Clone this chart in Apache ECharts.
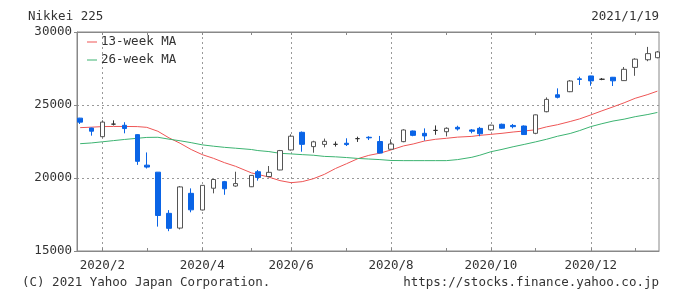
<!DOCTYPE html>
<html><head><meta charset="utf-8">
<script src="https://cdn.jsdelivr.net/npm/echarts@6/dist/echarts.min.js"></script>
<style>html,body{margin:0;padding:0;background:#fff}#c{width:689px;height:295px}</style>
</head><body><div id="c"></div>
<script>
// First trading day of each weekly candle
const weekDates = ['2020-01-20','2020-01-27','2020-02-03','2020-02-10','2020-02-17','2020-02-25','2020-03-02','2020-03-09','2020-03-16','2020-03-23','2020-03-30','2020-04-06','2020-04-13','2020-04-20','2020-04-27','2020-05-07','2020-05-11','2020-05-18','2020-05-25','2020-06-01','2020-06-08','2020-06-15','2020-06-22','2020-06-29','2020-07-06','2020-07-13','2020-07-20','2020-07-27','2020-08-03','2020-08-11','2020-08-17','2020-08-24','2020-08-31','2020-09-07','2020-09-14','2020-09-23','2020-09-28','2020-10-05','2020-10-12','2020-10-19','2020-10-26','2020-11-02','2020-11-09','2020-11-16','2020-11-24','2020-11-30','2020-12-07','2020-12-14','2020-12-21','2020-12-28','2021-01-04','2021-01-12','2021-01-18'];
const openVals  = [24100,23420,22830,23690,23610,22970,20880,20400,17580,16570,18950,17810,19300,19750,19450,19400,20430,20100,20550,21920,23130,22150,22300,22306,22380,22696,22790,22500,21970,22490,23220,23060,23260,23170,23470,23290,23400,23300,23680,23600,23560,23060,24540,25700,25910,26790,26990,26763,26900,26670,27575,28100,28240];
const closeVals = [23827,23205,23830,23690,23386,21142,20749,17431,16552,19389,17820,19498,19897,19262,19619,20179,20037,20388,21877,22863,22305,22478,22512,22306,22290,22696,22751,21710,22329,23289,22920,22882,23260,23406,23360,23204,23029,23619,23410,23516,22977,24325,25385,25527,26644,26751,26652,26763,26656,27444,28139,28519,28633];
const lowVals   = [23700,22900,22780,23600,23060,20900,20650,16670,16358,16480,17650,17780,18950,18850,19400,19380,19820,20050,20530,21880,21800,21730,22100,22150,22190,22470,22600,21690,21950,22450,22860,22560,22960,22850,23250,23060,22860,23250,23380,23400,22950,23000,24500,25450,25880,26370,26320,26700,26300,26650,27000,28000,28200];
const highVals  = [24120,23450,23950,23950,23820,23000,21750,20400,17800,19450,19290,19520,19920,19800,20430,20200,20550,20820,21920,22990,23185,22550,22700,22500,22720,22830,22860,22880,22650,23340,23250,23400,23600,23470,23580,23350,23500,23650,23725,23700,23600,24350,25520,26140,26710,26940,27000,26850,26920,27600,28200,28979,28700];
const ma13 = [23450,23480,23520,23530,23530,23520,23470,23200,22750,22380,21950,21600,21350,21050,20800,20350,20250,20060,19820,19680,19750,19950,20250,20650,20980,21320,21550,21700,21920,22200,22330,22530,22650,22720,22800,22850,22920,22990,23060,23150,23220,23300,23500,23650,23870,24050,24320,24600,24870,25150,25460,25720,25950];
const ma26 = [22350,22400,22480,22560,22640,22720,22780,22790,22660,22550,22420,22270,22180,22100,22040,21950,21880,21810,21690,21650,21600,21560,21480,21450,21400,21340,21300,21260,21200,21190,21190,21190,21190,21190,21260,21420,21560,21800,21960,22140,22300,22470,22650,22860,23050,23250,23520,23720,23900,24030,24200,24350,24490];
const monthTickWeeks = ['2020-02-03','2020-03-02','2020-04-06','2020-05-07','2020-06-01','2020-07-06','2020-08-03','2020-09-07','2020-10-05','2020-11-02','2020-12-07','2021-01-04'];
const labeledWeeks = ['2020-02-03','2020-04-06','2020-06-01','2020-08-03','2020-10-05','2020-12-07'];
const axisStart = '2020-01-18', axisEnd = '2021-01-19';
const yMin = 15000, yMax = 30000, yStep = 5000;
const titleText = 'Nikkei 225', dateText = '2021/1/19';
const copyText = '(C) 2021 Yahoo Japan Corporation.', urlText = 'https://stocks.finance.yahoo.co.jp';
const seriesNames = ['13-week MA','26-week MA'];

function addDay(s){const d=new Date(s+'T00:00:00Z');d.setUTCDate(d.getUTCDate()+1);return d.toISOString().slice(0,10);}
const days=[];for(let s=axisStart;s<=axisEnd;s=addDay(s))days.push(s);
const dayIndex={};days.forEach((d,i)=>dayIndex[d]=i);
const tickSet=new Set(monthTickWeeks), labelSet=new Set(labeledWeeks);
const candles=weekDates.map((d,i)=>[dayIndex[d],openVals[i],closeVals[i],lowVals[i],highVals[i]]);
const l13=weekDates.map((d,i)=>[dayIndex[d],ma13[i]]);
const l26=weekDates.map((d,i)=>[dayIndex[d],ma26[i]]);

const FONT='"DejaVu Sans Mono", "Liberation Mono", monospace';
const TXT='#333';
const chart=echarts.init(document.getElementById('c'),null,{renderer:'canvas'});
chart.setOption({
  animation:false,
  textStyle:{fontFamily:FONT},
  title:[
    {text:titleText,left:28,top:10,padding:0,textStyle:{fontFamily:FONT,fontSize:12.5,fontWeight:'normal',color:TXT}},
    {text:dateText,right:30,top:10,padding:0,textStyle:{fontFamily:FONT,fontSize:12.5,fontWeight:'normal',color:TXT}},
    {text:copyText,left:22,top:276,padding:0,textStyle:{fontFamily:FONT,fontSize:12.5,fontWeight:'normal',color:TXT}},
    {text:urlText,right:30,top:276,padding:0,textStyle:{fontFamily:FONT,fontSize:12.5,fontWeight:'normal',color:TXT}}
  ],
  legend:{
    orient:'vertical',left:87,top:33,padding:0,itemGap:0,itemWidth:10,itemHeight:1,
    textStyle:{fontFamily:FONT,fontSize:12.5,color:TXT,lineHeight:18,padding:[0,0,0,-1]},
    data:[{name:seriesNames[0],icon:'rect'},{name:seriesNames[1],icon:'rect'}]
  },
  grid:{left:77,right:30,top:32,bottom:44,show:true,borderColor:'#888',borderWidth:1,backgroundColor:'transparent'},
  xAxis:[
    {type:'category',data:days,boundaryGap:false,position:'bottom',
     axisLine:{show:true,lineStyle:{color:'#888'}},
     axisTick:{show:true,inside:true,length:3,interval:(i,v)=>tickSet.has(v),lineStyle:{color:'#888'}},
     axisLabel:{show:true,interval:(i,v)=>labelSet.has(v),formatter:v=>{const p=v.split('-');return p[0]+'/'+Number(p[1]);},
       fontFamily:FONT,fontSize:12.5,color:TXT,margin:8,hideOverlap:false},
     splitLine:{show:true,interval:(i,v)=>labelSet.has(v),lineStyle:{color:'#999',type:[2,3],width:1}}},
    {type:'category',data:days,boundaryGap:false,position:'top',
     axisLine:{show:true,lineStyle:{color:'#888'}},
     axisTick:{show:true,inside:true,length:3,interval:(i,v)=>tickSet.has(v),lineStyle:{color:'#888'}},
     axisLabel:{show:false},splitLine:{show:false}}
  ],
  yAxis:{type:'value',min:yMin,max:yMax,interval:yStep,
    axisLine:{show:true,lineStyle:{color:'#888'}},
    axisTick:{show:true,length:3,lineStyle:{color:'#888'}},
    axisLabel:{formatter:v=>String(v),fontFamily:FONT,fontSize:12.5,color:TXT,margin:5},
    splitLine:{show:true,lineStyle:{color:'#999',type:[2,3],width:1}}},
  series:[
    {name:seriesNames[0],type:'line',data:l13,symbol:'none',z:2,lineStyle:{color:'#ee5555',width:1},itemStyle:{color:'#ee5555'}},
    {name:seriesNames[1],type:'line',data:l26,symbol:'none',z:2,lineStyle:{color:'#3cb371',width:1},itemStyle:{color:'#3cb371'}},
    {name:'Nikkei 225',type:'candlestick',data:candles,encode:{x:0,y:[1,2,3,4]},barWidth:5,z:3,
     itemStyle:{color:'#ffffff',color0:'#0a64e6',borderColor:'#555555',borderColor0:'#0a64e6',borderColorDoji:'#333333',borderWidth:1}}
  ]
});
</script></body></html>
